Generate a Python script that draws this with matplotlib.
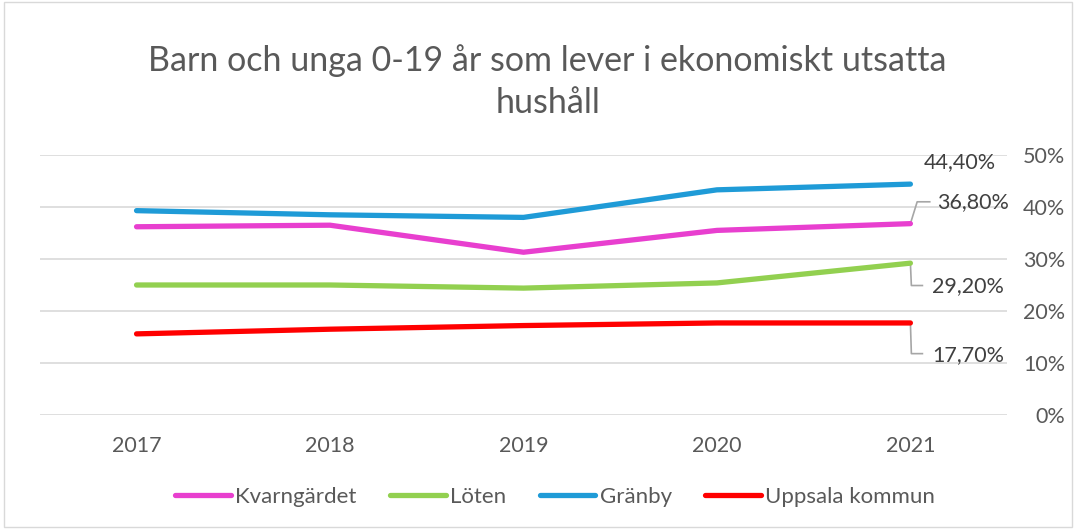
import matplotlib
matplotlib.use("Agg")
import matplotlib.pyplot as plt
from matplotlib.patches import Rectangle

years = ["2017", "2018", "2019", "2020", "2021"]
kvarngardet = [36.2, 36.5, 31.3, 35.5, 36.8]
loten = [25.0, 25.0, 24.4, 25.4, 29.2]
granby = [39.3, 38.5, 38.0, 43.3, 44.4]
uppsala = [15.6, 16.5, 17.2, 17.7, 17.7]
series_names = ["Kvarngärdet", "Löten", "Gränby", "Uppsala kommun"]
yticks = [0, 10, 20, 30, 40, 50]

PINK, GREEN, BLUE, RED = "#E83FCF", "#92D050", "#1F9BD7", "#FF0000"
TXT = "#595959"
LBL = "#404040"
plt.rcParams["font.family"] = ["Lato", "DejaVu Sans"]

fig = plt.figure(figsize=(10.76, 5.29), dpi=100)
ax = fig.add_axes([0.037, 0.2155, 0.899, 0.4915])
x = list(range(len(years)))

for vals, col, name in zip([kvarngardet, loten, granby, uppsala],
                           [PINK, GREEN, BLUE, RED], series_names):
    ax.plot(x, vals, color=col, lw=3.8, solid_capstyle="round",
            solid_joinstyle="round", label=name, zorder=3)

ax.set_xlim(-0.5, 4.5)
ax.set_ylim(0, 50)
ax.set_yticks(yticks)
ax.set_yticklabels([f"{v}%" for v in yticks])
ax.yaxis.tick_right()
ax.set_xticks(x)
ax.set_xticklabels(years)
ax.tick_params(axis="both", length=0, labelcolor=TXT, labelsize=15.5)
ax.tick_params(axis="y", pad=42)
ax.tick_params(axis="x", pad=15)
for t in ax.get_yticklabels():
    t.set_horizontalalignment("right")
ax.grid(axis="y", color="#d9d9d9", lw=1.2, zorder=0)
for s in ax.spines.values():
    s.set_visible(False)

# end-of-line labels with leader lines
lc = "#a6a6a6"
def lab(v):
    return f"{v:.2f}%".replace(".", ",")

ax.text(4.07, granby[-1] + 4.3, lab(granby[-1]), fontsize=15.5, color=LBL,
        ha="left", va="center")
ax.plot([4, 4.035, 4.1], [kvarngardet[-1], kvarngardet[-1] + 4.2, kvarngardet[-1] + 4.2],
        color=lc, lw=1.2, zorder=2)
ax.text(4.14, kvarngardet[-1] + 4.1, lab(kvarngardet[-1]), fontsize=15.5, color=LBL,
        ha="left", va="center")
ax.plot([4, 4.005, 4.062], [loten[-1], loten[-1] - 4.3, loten[-1] - 4.3],
        color=lc, lw=1.2, zorder=2)
ax.text(4.114, loten[-1] - 4.4, lab(loten[-1]), fontsize=15.5, color=LBL,
        ha="left", va="center")
ax.plot([4, 4.005, 4.062], [uppsala[-1], uppsala[-1] - 5.9, uppsala[-1] - 5.9],
        color=lc, lw=1.2, zorder=2)
ax.text(4.114, uppsala[-1] - 6.2, lab(uppsala[-1]), fontsize=15.5, color=LBL,
        ha="left", va="center")

fig.text(0.509, 0.845, "Barn och unga 0-19 år som lever i ekonomiskt utsatta\nhushåll",
         ha="center", va="center", fontsize=24.5, color=TXT, linespacing=1.38)

leg = fig.legend(loc="center", bbox_to_anchor=(0.516, 0.06), ncol=4, frameon=False,
                 fontsize=16, handlelength=2.5, handletextpad=0.2, columnspacing=1.5)
for t in leg.get_texts():
    t.set_color(TXT)
for h in leg.get_lines():
    h.set_solid_capstyle("round")

fig.patches.append(Rectangle((0.004, 0.004), 0.992, 0.992, transform=fig.transFigure,
                             fill=False, ec="#d9d9d9", lw=1))

fig.savefig("out.png", dpi=100)
